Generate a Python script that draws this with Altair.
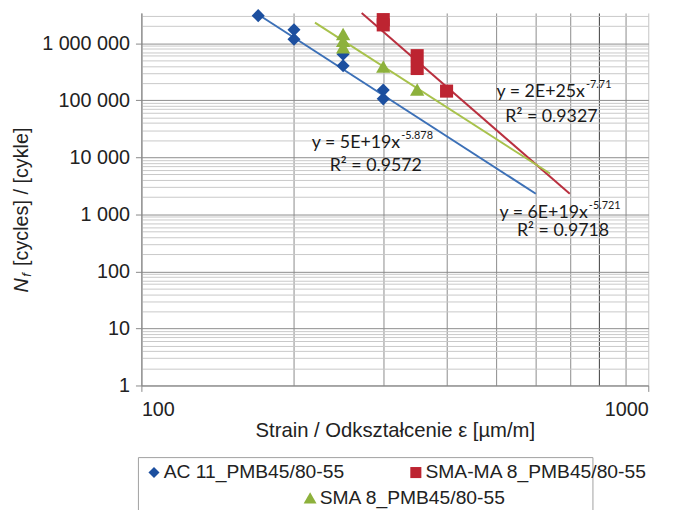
import altair as alt
import pandas as pd

# ---------------- data ----------------
series = ["AC 11_PMB45/80-55", "SMA-MA 8_PMB45/80-55", "SMA 8_PMB45/80-55"]
marker_colors = ["#1C4F9F", "#BD2431", "#8DB13C"]
line_colors = ["#3C70B7", "#B9303F", "#A8C24C"]

ac_x = [170, 200, 200, 250, 250, 300, 300]
ac_y = [3050000, 1730000, 1180000, 640000, 405000, 151000, 106000]
mam_x = [300, 300, 350, 350, 400]
mam_y = [2600000, 2100000, 607000, 361000, 145000]
sma_x = [250, 250, 250, 300, 350]
sma_y = [1450000, 1100000, 850000, 390000, 155000]

# trend line end points (power fits appear as straight lines on log-log axes)
trend_series = [series[0], series[0], series[1], series[1], series[2], series[2]]
trend_x = [170, 600, 272, 700, 220, 640]
trend_y = [3200000, 2300, 3400000, 2300, 2300000, 5200]

eq_text = ["y = 2E+25x", "y = 5E+19x", "y = 6E+19x"]
eq_exp = ["-7.71", "-5.878", "-5.721"]
eq_x = [750, 324, 760]
eq_y = [140000, 17600, 1076]
r2_text = ["R\u00b2 = 0.9327", "R\u00b2 = 0.9572", "R\u00b2 = 0.9718"]
r2_x = [644, 290, 679]
r2_y = [51500, 7000, 505]

x_grid = [100, 200, 300, 400, 500, 600, 700, 800, 900, 1000]
y_grid = [1, 2, 3, 4, 5, 6, 7, 8, 9,
          10, 20, 30, 40, 50, 60, 70, 80, 90,
          100, 200, 300, 400, 500, 600, 700, 800, 900,
          1000, 2000, 3000, 4000, 5000, 6000, 7000, 8000, 9000,
          10000, 20000, 30000, 40000, 50000, 60000, 70000, 80000, 90000,
          100000, 200000, 300000, 400000, 500000, 600000, 700000, 800000, 900000,
          1000000, 2000000, 3000000]
x_domain = [100, 1000]
y_domain = [1, 3400000]

x_title = "Strain / Odkszta\u0142cenie \u03b5 [\u00b5m/m]"
y_title_parts = ["N", "f", "[cycles] / [cykle]"]

# ---------------- tables ----------------
pts_a = pd.DataFrame({
    "x": ac_x + mam_x,
    "y": ac_y + mam_y,
    "s": [series[0]] * len(ac_x) + [series[1]] * len(mam_x),
})
pts_b = pd.DataFrame({"x": sma_x, "y": sma_y, "s": [series[2]] * len(sma_x)})
trend = pd.DataFrame({"x": trend_x, "y": trend_y, "s": trend_series})
eqs = pd.DataFrame({"t": eq_text, "e": eq_exp, "x": eq_x, "y": eq_y})
r2s = pd.DataFrame({"t": r2_text, "x": r2_x, "y": r2_y})

FONT = "Liberation Sans"
ANN_FONT = "Lato"

is_major_y = "abs(log(datum.value)/LN10 - round(log(datum.value)/LN10)) < 0.001"
is_major_x = "datum.value == 100 || datum.value == 1000"

x_enc = alt.X(
    "x:Q",
    scale=alt.Scale(type="log", domain=x_domain, nice=False),
    axis=alt.Axis(
        values=x_grid,
        labelExpr="(" + is_major_x + ") ? format(datum.value, 'd') : ''",
        labelOverlap=False,
        labelFont=FONT, labelFontSize=20, labelColor="#222222", labelPadding=8,
        tickSize=6, tickColor="#888888",
        tickOpacity={"condition": {"test": is_major_x, "value": 1}, "value": 0},
        domainColor="#888888",
        gridColor={"condition": [
            {"test": "datum.value == 800", "value": "#3a3a3a"},
            {"test": "datum.value == 1000", "value": "#c4c4c4"}],
            "value": "#8a8a8a"},
        title=x_title, titleFont=FONT, titleFontSize=20.5, titleFontWeight="normal",
        titleColor="#222222", titlePadding=2,
    ),
)
y_enc = alt.Y(
    "y:Q",
    scale=alt.Scale(type="log", domain=y_domain, nice=False),
    axis=alt.Axis(
        values=y_grid,
        labelExpr="(" + is_major_y + ") ? replace(replace(format(datum.value, ','), ',', ' '), ',', ' ') : ''",
        labelOverlap=False,
        labelFont=FONT, labelFontSize=20, labelColor="#222222", labelPadding=6,
        tickSize=6, tickColor="#888888",
        tickOpacity={"condition": {"test": is_major_y, "value": 1}, "value": 0},
        domainColor="#888888",
        gridColor={"condition": {"test": is_major_y, "value": "#8c8c8c"}, "value": "#c8c8c8"},
        title=None,
    ),
)

lines = alt.Chart(trend).mark_line(strokeWidth=2).encode(
    x=x_enc, y=y_enc,
    color=alt.Color("s:N", scale=alt.Scale(domain=series, range=line_colors), legend=None),
    detail="s:N",
)

legend_common = dict(
    orient="none", title=None, labelFont=FONT, labelFontSize=19.5, labelColor="#222222",
    labelLimit=400, labelOffset=0, padding=0, direction="horizontal",
)

legend_a = alt.Legend(legendX=3, legendY=455, columns=2, columnPadding=62,
                      symbolSize=125, **legend_common)
legend_b = alt.Legend(legendX=161, legendY=481, symbolSize=170, **legend_common)

points_a = alt.Chart(pts_a).mark_point(filled=True, opacity=1, size=175).encode(
    x="x:Q", y="y:Q",
    color=alt.Color("s:N", scale=alt.Scale(domain=series[:2], range=marker_colors[:2]),
                    legend=legend_a),
    shape=alt.Shape("s:N", scale=alt.Scale(domain=series[:2], range=["diamond", "square"]),
                    legend=legend_a),
)

points_b = alt.Chart(pts_b).mark_point(filled=True, opacity=1, size=210).encode(
    x="x:Q", y="y:Q",
    color=alt.Color("s:N", scale=alt.Scale(domain=series[2:], range=marker_colors[2:]),
                    legend=legend_b),
    shape=alt.Shape("s:N", scale=alt.Scale(domain=series[2:], range=["triangle-up"]),
                    legend=legend_b),
)

eq_base = alt.Chart(eqs).mark_text(
    align="right", baseline="middle", font=ANN_FONT, fontSize=18, color="#1a1a1a"
).encode(x="x:Q", y="y:Q", text="t:N")
eq_sup = alt.Chart(eqs).mark_text(
    align="left", baseline="middle", font=ANN_FONT, fontSize=11, color="#1a1a1a", dy=-7, dx=1
).encode(x="x:Q", y="y:Q", text="e:N")
r2_lab = alt.Chart(r2s).mark_text(
    align="center", baseline="middle", font=ANN_FONT, fontSize=18, color="#1a1a1a"
).encode(x="x:Q", y="y:Q", text="t:N")

# rotated y-axis title with italic N and subscript f
yt_n = alt.Chart(pd.DataFrame({"t": [y_title_parts[0]]})).mark_text(
    angle=270, align="left", baseline="middle", font=FONT, fontSize=20,
    fontStyle="italic", color="#222222"
).encode(x=alt.value(-121), y=alt.value(283), text="t:N")
yt_f = alt.Chart(pd.DataFrame({"t": [y_title_parts[1]]})).mark_text(
    angle=270, align="left", baseline="middle", font=FONT, fontSize=13,
    fontStyle="italic", color="#222222", dx=16, dy=5
).encode(x=alt.value(-121), y=alt.value(283), text="t:N")
yt_rest = alt.Chart(pd.DataFrame({"t": [y_title_parts[2]]})).mark_text(
    angle=270, align="left", baseline="middle", font=FONT, fontSize=20, color="#222222", dx=27
).encode(x=alt.value(-121), y=alt.value(283), text="t:N")

legend_box = alt.Chart(pd.DataFrame({"k": [0]})).mark_rect(
    fillOpacity=0, stroke="#a0a0a0", strokeWidth=1
).encode(x=alt.value(-3), x2=alt.value(457), y=alt.value(450), y2=alt.value(560))

chart = alt.layer(
    lines, points_a, points_b, eq_base, eq_sup, r2_lab, yt_n, yt_f, yt_rest, legend_box
).resolve_scale(
    color="independent", shape="independent"
).properties(
    width=513, height=377,
    autosize=alt.AutoSizeParams(type="none"),
    padding={"left": 135, "top": 2, "right": 24, "bottom": 123},
    background="white",
).configure_view(strokeWidth=0)

chart.save("out.html", embed_options={"renderer": "svg", "actions": False})
